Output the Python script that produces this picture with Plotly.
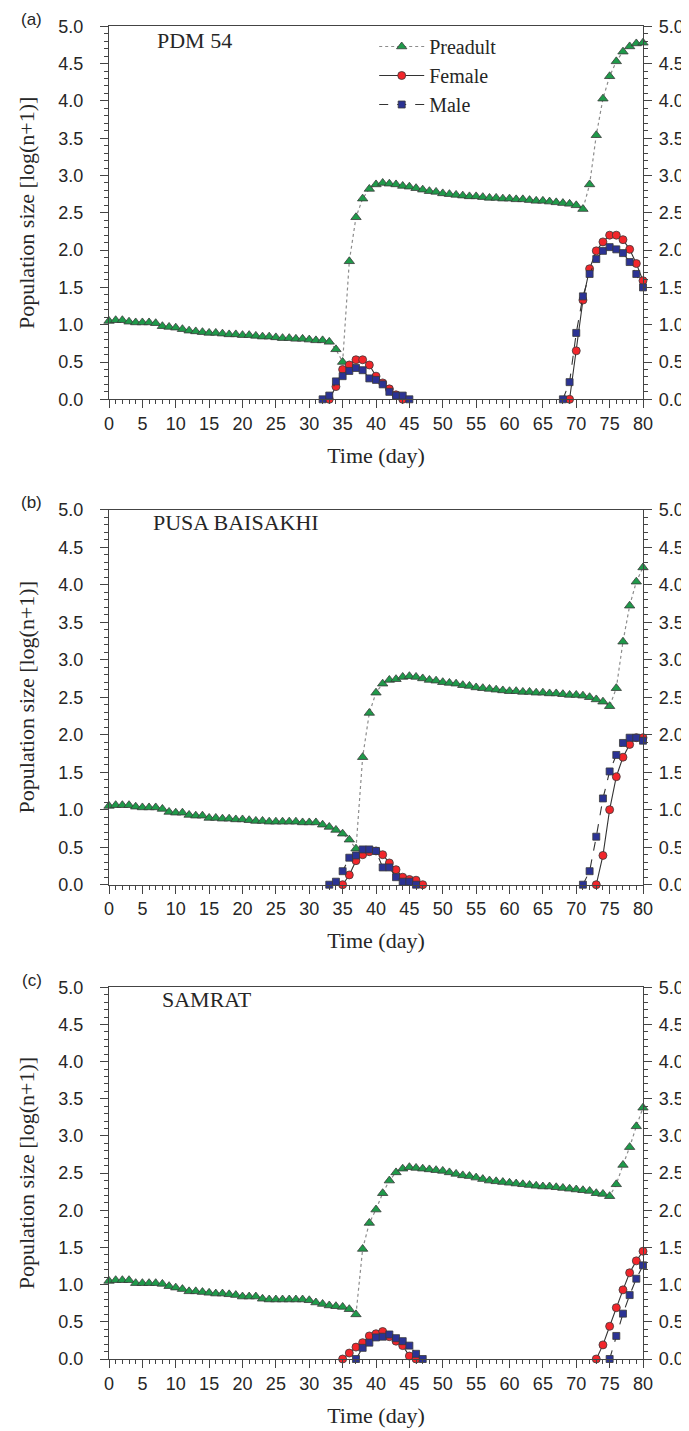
import plotly.graph_objects as go

# ---------------- data ----------------
days = list(range(0, 81))
x_ticks = list(range(0, 81, 5))
y_ticks = [0.0, 0.5, 1.0, 1.5, 2.0, 2.5, 3.0, 3.5, 4.0, 4.5, 5.0]
y_tick_labels = ["0.0", "0.5", "1.0", "1.5", "2.0", "2.5", "3.0", "3.5", "4.0", "4.5", "5.0"]

panel_names = ["PDM 54", "PUSA BAISAKHI", "SAMRAT"]
panel_letters = ["(a)", "(b)", "(c)"]

preadult_a = [1.05, 1.06, 1.06, 1.04, 1.03, 1.03, 1.03, 1.02, 0.98, 0.97,
              0.96, 0.94, 0.92, 0.91, 0.90, 0.89, 0.89, 0.88, 0.87, 0.87,
              0.86, 0.86, 0.85, 0.84, 0.84, 0.83, 0.82, 0.82, 0.81, 0.81,
              0.80, 0.79, 0.79, 0.77, 0.67, 0.50, 1.85, 2.44, 2.69, 2.82,
              2.88, 2.90, 2.89, 2.88, 2.86, 2.85, 2.83, 2.81, 2.79, 2.78,
              2.76, 2.75, 2.74, 2.73, 2.72, 2.72, 2.71, 2.70, 2.70, 2.69,
              2.69, 2.68, 2.68, 2.67, 2.66, 2.66, 2.65, 2.64, 2.63, 2.62,
              2.60, 2.55, 2.88, 3.54, 4.03, 4.33, 4.53, 4.66, 4.73, 4.77, 4.78]
female_a_start = [33, 69]
female_a_vals = [[0.0, 0.17, 0.40, 0.46, 0.53, 0.53, 0.46, 0.31, 0.22, 0.14, 0.06, 0.0],
                 [0.0, 0.65, 1.33, 1.75, 1.99, 2.11, 2.20, 2.20, 2.14, 2.01, 1.82, 1.59]]
male_a_start = [32, 68]
male_a_vals = [[0.0, 0.05, 0.24, 0.31, 0.38, 0.42, 0.39, 0.28, 0.26, 0.20, 0.10, 0.05, 0.05, 0.0],
               [0.0, 0.23, 0.89, 1.38, 1.68, 1.88, 1.99, 2.04, 2.01, 1.96, 1.84, 1.68, 1.50]]

preadult_b = [1.05, 1.06, 1.06, 1.06, 1.04, 1.03, 1.03, 1.03, 1.01, 0.97,
              0.96, 0.96, 0.93, 0.92, 0.92, 0.89, 0.89, 0.88, 0.88, 0.87,
              0.87, 0.86, 0.85, 0.85, 0.84, 0.84, 0.84, 0.84, 0.84, 0.83,
              0.83, 0.83, 0.80, 0.77, 0.73, 0.68, 0.60, 0.48, 1.70, 2.29,
              2.56, 2.68, 2.73, 2.74, 2.77, 2.78, 2.77, 2.75, 2.73, 2.72,
              2.70, 2.69, 2.68, 2.66, 2.65, 2.63, 2.62, 2.61, 2.60, 2.59,
              2.58, 2.58, 2.57, 2.57, 2.56, 2.56, 2.55, 2.55, 2.54, 2.53,
              2.53, 2.52, 2.50, 2.47, 2.44, 2.38, 2.62, 3.24, 3.72, 4.04, 4.23]
female_b_start = [35, 73]
female_b_vals = [[0.0, 0.13, 0.32, 0.40, 0.44, 0.45, 0.40, 0.29, 0.20, 0.10, 0.07, 0.06, 0.0],
                 [0.0, 0.39, 1.00, 1.44, 1.70, 1.87, 1.96, 1.96]]
male_b_start = [33, 71]
male_b_vals = [[0.0, 0.04, 0.18, 0.36, 0.39, 0.47, 0.47, 0.45, 0.23, 0.23, 0.10, 0.04, 0.04, 0.0],
               [0.0, 0.18, 0.64, 1.15, 1.51, 1.73, 1.89, 1.96, 1.96, 1.92]]

preadult_c = [1.05, 1.06, 1.06, 1.06, 1.02, 1.02, 1.02, 1.02, 1.01, 0.98,
              0.96, 0.94, 0.91, 0.91, 0.90, 0.89, 0.88, 0.88, 0.87, 0.86,
              0.84, 0.84, 0.84, 0.81, 0.80, 0.80, 0.80, 0.80, 0.80, 0.80,
              0.79, 0.76, 0.74, 0.72, 0.71, 0.70, 0.67, 0.60, 1.48, 1.83,
              2.01, 2.23, 2.40, 2.51, 2.56, 2.58, 2.57, 2.56, 2.55, 2.54,
              2.53, 2.51, 2.49, 2.47, 2.46, 2.44, 2.42, 2.40, 2.39, 2.38,
              2.37, 2.36, 2.35, 2.34, 2.33, 2.32, 2.32, 2.31, 2.30, 2.29,
              2.28, 2.27, 2.26, 2.23, 2.22, 2.19, 2.35, 2.61, 2.85, 3.13, 3.38]
female_c_start = [35, 73]
female_c_vals = [[0.0, 0.08, 0.16, 0.22, 0.31, 0.34, 0.37, 0.30, 0.24, 0.18, 0.04, 0.0],
                 [0.0, 0.19, 0.44, 0.69, 0.93, 1.16, 1.32, 1.45]]
male_c_start = [37, 75]
male_c_vals = [[0.0, 0.15, 0.22, 0.29, 0.30, 0.33, 0.28, 0.24, 0.18, 0.07, 0.0],
               [0.0, 0.31, 0.61, 0.86, 1.08, 1.26]]

preadults = [preadult_a, preadult_b, preadult_c]
females = [(female_a_start, female_a_vals), (female_b_start, female_b_vals), (female_c_start, female_c_vals)]
males = [(male_a_start, male_a_vals), (male_b_start, male_b_vals), (male_c_start, male_c_vals)]


def segments(starts, vals):
    xs, ys = [], []
    for i, (s, v) in enumerate(zip(starts, vals)):
        if i > 0:
            xs.append(None)
            ys.append(None)
        xs.extend(range(s, s + len(v)))
        ys.extend(v)
    return xs, ys


# ---------------- layout geometry (pixels) ----------------
W, H = 689, 1431
PL, PR = 101, 634.6
panel_px = [(18.3, 391.3), (501.7, 876.7), (979.3, 1351.0)]

GREEN = "#1f9a4a"
RED = "#f2262b"
BLUE = "#2b3394"
EDGE = "#3a3a3a"
AX = "#444444"
TXT = "#262626"

fig = go.Figure()

for i in range(3):
    xa = "x" if i == 0 else f"x{i+1}"
    ya = "y" if i == 0 else f"y{i+1}"
    yr = f"y{i+4}"
    first = i == 0
    fig.add_trace(go.Scatter(
        x=days, y=preadults[i], xaxis=xa, yaxis=ya, name="Preadult",
        mode="lines+markers", showlegend=first, legendrank=1, cliponaxis=False,
        line=dict(color="#8c8c8c", width=1.2, dash="dot"),
        marker=dict(symbol="triangle-up", size=9, color=GREEN, line=dict(color=EDGE, width=0.8)),
    ))
    fx, fy = segments(*females[i])
    fig.add_trace(go.Scatter(
        x=fx, y=fy, xaxis=xa, yaxis=ya, name="Female",
        mode="lines+markers", showlegend=first, legendrank=2, cliponaxis=False,
        line=dict(color="#333333", width=1.1),
        marker=dict(symbol="circle", size=8, color=RED, line=dict(color=EDGE, width=0.8)),
    ))
    mx, my = segments(*males[i])
    fig.add_trace(go.Scatter(
        x=mx, y=my, xaxis=xa, yaxis=ya, name="Male",
        mode="lines+markers", showlegend=first, legendrank=3, cliponaxis=False,
        line=dict(color="#333333", width=1.1, dash="dash"),
        marker=dict(symbol="square", size=7, color=BLUE, line=dict(color=EDGE, width=0.8)),
    ))
    # invisible carrier for the right-hand axis
    fig.add_trace(go.Scatter(
        x=days, y=preadults[i], xaxis=xa, yaxis=yr, mode="markers",
        marker=dict(opacity=0), hoverinfo="skip", showlegend=False,
    ))

    top, bot = panel_px[i]
    dom = [1 - bot / H, 1 - top / H]
    xkey = "xaxis" if i == 0 else f"xaxis{i+1}"
    ykey = "yaxis" if i == 0 else f"yaxis{i+1}"
    rkey = f"yaxis{i+4}"
    common_y = dict(
        range=[0, 5], tickvals=y_ticks, ticktext=y_tick_labels,
        showline=True, linecolor=AX, linewidth=1.3, showgrid=False, zeroline=False,
        ticks="outside", ticklen=8, tickwidth=1.2, tickcolor=AX,
        tickfont=dict(family="Liberation Sans, Arial", size=18, color=TXT),
        minor=dict(dtick=0.1, ticks="outside", ticklen=4, tickwidth=1, tickcolor=AX, showgrid=False),
        domain=dom, fixedrange=True,
    )
    fig.layout[xkey] = dict(
        range=[0, 80], tickvals=x_ticks, domain=[0, 1], anchor=ya,
        showline=True, mirror=True, linecolor=AX, linewidth=1.3, showgrid=False, zeroline=False,
        ticks="outside", ticklen=8, tickwidth=1.2, tickcolor=AX,
        tickfont=dict(family="Liberation Sans, Arial", size=18, color=TXT),
        ticklabelstandoff=0,
        minor=dict(dtick=1, ticks="outside", ticklen=4, tickwidth=1, tickcolor=AX, showgrid=False),
        title=dict(text="Time (day)", font=dict(family="Liberation Serif, Times New Roman", size=22, color=TXT), standoff=14),
        fixedrange=True,
    )
    fig.layout[ykey] = dict(
        **common_y, anchor=xa, side="left", ticklabelstandoff=13,
        title=dict(text="Population size [log(n+1)]",
                   font=dict(family="Liberation Serif, Times New Roman", size=22, color=TXT), standoff=17),
    )
    fig.layout[rkey] = dict(
        **common_y, anchor=xa, overlaying=ya, side="right", ticklabelstandoff=3,
    )

    names_x = [(147 - PL) / (PR - PL), (143 - PL) / (PR - PL), (152 - PL) / (PR - PL)]
    names_yc = [33.0, 514.5, 992.0]
    fig.add_annotation(
        text=panel_names[i], xref="paper", yref="paper",
        x=names_x[i], y=1 - names_yc[i] / H, xanchor="left", yanchor="middle",
        showarrow=False, font=dict(family="Liberation Serif, Times New Roman", size=22, color=TXT),
    )
    fig.add_annotation(
        text=panel_letters[i], xref="paper", yref="paper",
        x=(24 - PL) / (PR - PL), y=1 - (top - 7) / H, xanchor="center", yanchor="middle",
        showarrow=False, font=dict(family="Liberation Sans, Arial", size=17, color=TXT),
    )

fig.update_layout(
    width=W, height=H, template="none",
    paper_bgcolor="white", plot_bgcolor="white",
    margin=dict(l=PL, r=W - PR, t=0, b=0, autoexpand=False),
    showlegend=True,
    legend=dict(
        x=(366 - PL) / (PR - PL), y=1 - 19 / H, xanchor="left", yanchor="top",
        bgcolor="rgba(0,0,0,0)", borderwidth=0,
        font=dict(family="Liberation Serif, Times New Roman", size=20, color=TXT),
        itemwidth=45, tracegroupgap=0, traceorder="normal",
    ),
)

fig.write_html("out.html")
